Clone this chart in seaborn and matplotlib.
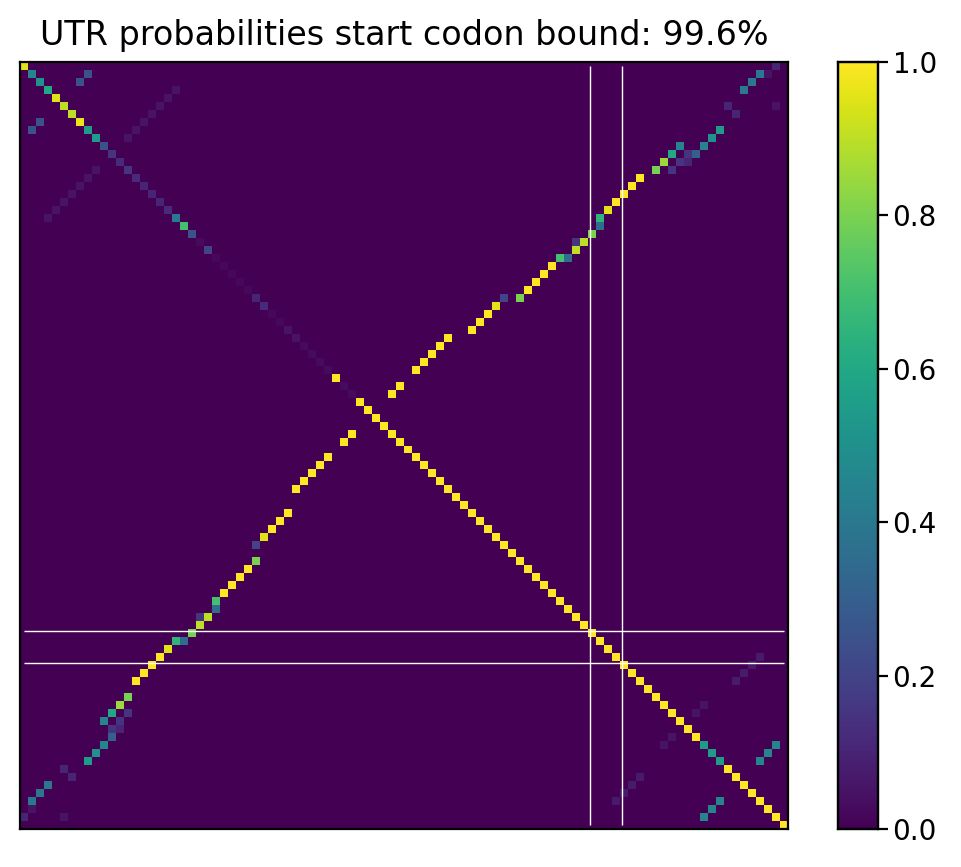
import numpy as np
import matplotlib
matplotlib.use("Agg")
import matplotlib.pyplot as plt
import seaborn as sns

N = 96
title = "UTR probabilities start codon bound: 99.6%"

# diagonal values
diag_vals = [0.95,0.45,0.5,0.6,0.95,0.9,0.9,0.97,0.55,0.55,0.25,0.15,0.12,0.15,0.12,0.1,0.1,0.1,0.12,0.4,
             0.7,0.25,0.03,0.2,0.02,0.02,0.02,0.02,0.02,0.1,0.12,0.02,0.02,0.05,0.05,0.03,0.03,0.03,0.03,1.0,
             0.03,0.03] + [1.0]*43 + [0.55,0.55,0.55] + [1.0]*8

# off-diagonal pairs (col, row, probability); mirrored for symmetry
pair_col = [0,1,2,3,5,6,8,9,10,11,10,11,12,13,14,15,16,17,18,19,20,21,22,22,23,24,24,25,26,27,28,29,29,30,31,32,33,
            34,35,36,37,38,40,41,
            11,12,12,13,1,5,
            1,2,19,18,17,16,15,14,13,
            85,86,87,89,90,91,92,84,85]
pair_row = [94,92,91,90,88,89,87,86,85,84,82,81,80,79,77,76,75,74,73,72,72,71,70,69,69,68,67,66,65,64,63,62,60,59,58,57,56,
            53,52,51,50,49,47,46,
            83,82,83,81,93,94,
            8,7,3,4,5,6,7,8,9,
            94,93,92,77,76,75,74,81,80]
pair_prob = [0.1,0.4,0.4,0.4,0.1,0.1,0.55,0.5,0.45,0.3,0.45,0.6,0.85,0.8,1,1,1,1,0.95,0.65,0.35,0.8,0.9,0.15,0.9,0.35,0.7,1,1,1,1,0.8,0.2,0.95,1,1,1,
             1,1,1,1,1,1,1,
             0.15,0.15,0.1,0.15,0.05,0.05,
             0.25,0.25,0.05,0.05,0.05,0.05,0.05,0.05,0.05,
             0.45,0.45,0.45,0.07,0.07,0.07,0.07,0.05,0.05]

line_pos = [71.25, 75.25]

M = np.zeros((N, N))
for i, v in enumerate(diag_vals[:N]):
    M[i, i] = v
for c, r, p in zip(pair_col, pair_row, pair_prob):
    M[r, c] = p
    M[c, r] = p

fig = plt.figure(figsize=(9.61, 8.67), dpi=100)
ax = fig.add_axes([20/961, 1-829/867, 768/961, 767/867])
cax = fig.add_axes([838/961, 1-829/867, 40/961, 767/867])
sns.heatmap(M, ax=ax, cbar_ax=cax, cmap="viridis", vmin=0, vmax=1,
            xticklabels=False, yticklabels=False)
for s in ax.spines.values():
    s.set_visible(True); s.set_color("black"); s.set_linewidth(1.6)
ax.hlines(line_pos, 0.5, N-0.5, colors="white", linewidth=1.0)
ax.vlines(line_pos, 0.5, N-0.5, colors="white", linewidth=1.0)
ax.set_title(title, fontsize=24, pad=12)
cax.tick_params(labelsize=20, length=7, width=1.6)
cax.set_yticks([0, 0.2, 0.4, 0.6, 0.8, 1.0])
cax.set_yticklabels(["0.0","0.2","0.4","0.6","0.8","1.0"])
for s in cax.spines.values():
    s.set_visible(True); s.set_color("black"); s.set_linewidth(1.6)
fig.savefig("out.png", dpi=100)
